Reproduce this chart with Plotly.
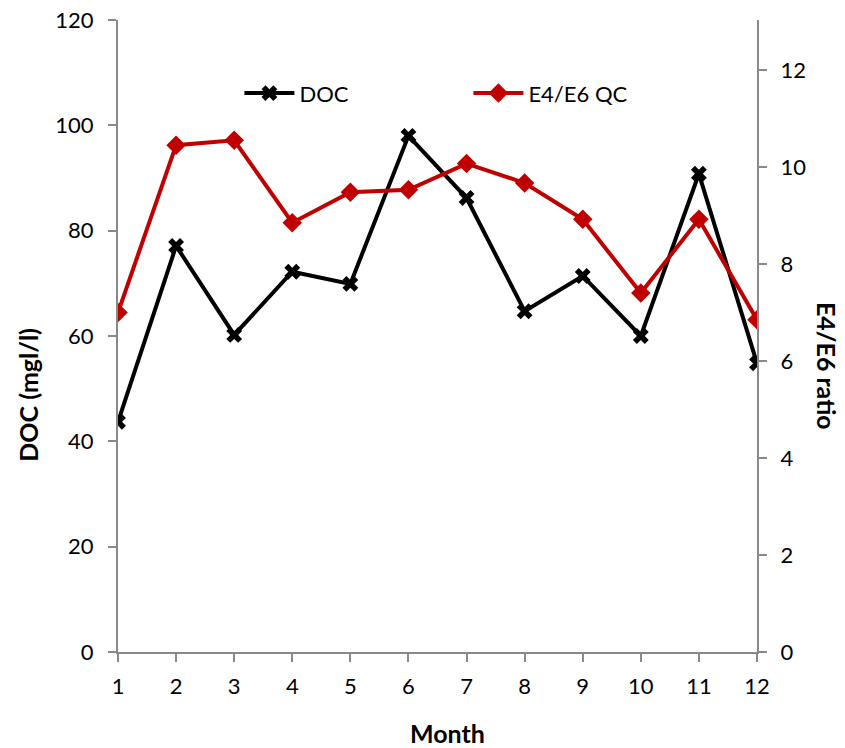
import plotly.graph_objects as go

months = [1, 2, 3, 4, 5, 6, 7, 8, 9, 10, 11, 12]
doc = [43.7, 77.1, 60.2, 72.2, 69.9, 98.0, 86.2, 64.7, 71.4, 60.0, 90.8, 54.8]
e4e6 = [7.0, 10.45, 10.55, 8.85, 9.48, 9.53, 10.07, 9.67, 8.92, 7.4, 8.92, 6.85]

font = "Lato"
axis_color = "#898989"
tick_size = 22
title_size = 25

fig = go.Figure()
fig.add_trace(go.Scatter(
    x=months, y=doc, name="DOC", mode="lines+markers",
    line=dict(color="black", width=4),
    marker=dict(symbol="x", size=14, color="black"),
    yaxis="y",
))
fig.add_trace(go.Scatter(
    x=months, y=e4e6, name="E4/E6 QC", mode="lines+markers",
    line=dict(color="#C00000", width=4),
    marker=dict(symbol="diamond", size=15, color="#C00000"),
    yaxis="y2",
))

fig.update_layout(
    width=845, height=748,
    margin=dict(l=118, r=88, t=20, b=96),
    paper_bgcolor="white", plot_bgcolor="white",
    font=dict(family=font, size=tick_size, color="black"),
    showlegend=True,
    legend=dict(
        orientation="h", x=0.19, y=0.884, xanchor="left", yanchor="middle",
        bgcolor="rgba(0,0,0,0)", font=dict(size=tick_size),
        itemwidth=50, entrywidth=164, entrywidthmode="pixels",
    ),
    xaxis=dict(
        range=[1, 12], tickvals=months, ticktext=[str(m) for m in months],
        showline=True, linecolor=axis_color, linewidth=2,
        ticks="outside", tickcolor=axis_color, ticklen=8, tickwidth=1.5,
        showgrid=False, zeroline=False, automargin=False,
        ticklabelstandoff=6, ticklabeloverflow="allow",
    ),
    yaxis=dict(
        range=[0, 120], tickvals=[0, 20, 40, 60, 80, 100, 120],
        showline=True, linecolor=axis_color, linewidth=2,
        ticks="outside", tickcolor=axis_color, ticklen=8, tickwidth=1.5,
        showgrid=False, zeroline=False, automargin=False,
        ticklabelstandoff=10, ticklabeloverflow="allow",
    ),
    yaxis2=dict(
        range=[0, 13.03], tickvals=[0, 2, 4, 6, 8, 10, 12],
        overlaying="y", side="right",
        showline=True, linecolor=axis_color, linewidth=2,
        ticks="outside", tickcolor=axis_color, ticklen=8, tickwidth=1.5,
        showgrid=False, zeroline=False, automargin=False,
        ticklabelstandoff=9, ticklabeloverflow="allow",
    ),
    annotations=[
        dict(text="<b>E4/E6 ratio</b>", textangle=90, font=dict(size=title_size),
             x=1.1096, y=0.4525, xref="paper", yref="paper",
             xanchor="center", yanchor="middle", showarrow=False),
        dict(text="<b>DOC (mgl/l)</b>", textangle=-90, font=dict(size=title_size),
             x=-0.141, y=0.407, xref="paper", yref="paper",
             xanchor="center", yanchor="middle", showarrow=False),
        dict(text="<b>Month</b>", font=dict(size=title_size),
             x=0.516, y=-0.128, xref="paper", yref="paper",
             xanchor="center", yanchor="middle", showarrow=False),
    ],
)

# remove the default 8px page margin so the figure fills the window exactly
fig.write_html(
    "out.html",
    config={"displayModeBar": False},
    post_script="document.body.style.margin='0';document.body.style.overflow='hidden';",
)
